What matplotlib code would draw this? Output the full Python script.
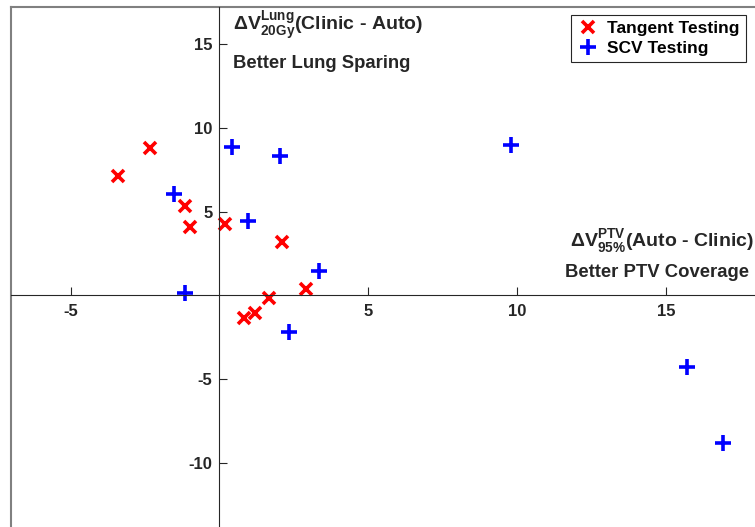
import matplotlib.pyplot as plt

plt.rcParams['font.family'] = ['Liberation Sans', 'DejaVu Sans']
plt.rcParams['mathtext.fontset'] = 'custom'
plt.rcParams['mathtext.rm'] = 'Liberation Sans:bold'
plt.rcParams['mathtext.bf'] = 'Liberation Sans:bold'
plt.rcParams['axes.unicode_minus'] = False

# Tangent testing (red x)
tan_x = [-3.42, -2.34, -1.14, -0.98, 0.20, 2.11, 2.91, 1.67, 1.21, 0.81]
tan_y = [7.11, 8.80, 5.32, 4.09, 4.25, 3.20, 0.36, -0.14, -1.07, -1.37]

# SCV testing (blue +)
scv_x = [0.43, 2.05, -1.54, 0.97, 3.34, -1.14, 2.33, 9.78, 15.70, 16.91]
scv_y = [8.86, 8.31, 6.02, 4.41, 1.47, 0.16, -2.17, 8.94, -4.26, -8.83]

xticks = [-5, 5, 10, 15]
yticks = [-10, -5, 5, 10, 15]

fig = plt.figure(figsize=(7.55, 5.27), dpi=100)
ax = fig.add_axes([11 / 755, -3 / 527, 744.4 / 755, 523 / 527])
ax.set_xlim(-7, 18)
ax.set_ylim(-14, 17.2)

ax.plot(tan_x, tan_y, 'x', color='#ff0000', ms=8.5, mew=2.6, label='Tangent Testing')
ax.plot(scv_x, scv_y, '+', color='#0000ff', ms=11, mew=2.6, label='SCV Testing')

# axes through the origin
for s in ['right', 'top']:
    ax.spines[s].set_visible(False)
ax.spines['left'].set_position('zero')
ax.spines['bottom'].set_position('zero')
ax.spines['left'].set_color('#262626')
ax.spines['bottom'].set_color('#262626')

# outer box (top and left edges visible)
ax.axvline(-7, color='#808080', lw=1.5, clip_on=False)
ax.axhline(17.2, color='#808080', lw=1.5, clip_on=False)

ax.set_xticks(xticks)
ax.set_yticks(yticks)
ax.tick_params(direction='in', length=6, width=0.8, color='#262626',
               labelsize=12, labelcolor='#262626', pad=6)
ax.tick_params(axis='y', pad=5)
for lab in ax.get_xticklabels() + ax.get_yticklabels():
    lab.set_fontweight('bold')

ax.text(0.45, 16.05, r'$\Delta$V$^{\mathrm{Lung}}_{\mathrm{20Gy}}$(Clinic - Auto)',
        fontsize=14, fontweight='bold', color='#262626', va='center', ha='left')
ax.text(0.45, 13.85, 'Better Lung Sparing', fontsize=13.3, fontweight='bold',
        color='#262626', va='center', ha='left')
ax.text(17.95, 3.2, r'$\Delta$V$^{\mathrm{PTV}}_{\mathrm{95\%}}$(Auto - Clinic)',
        fontsize=14, fontweight='bold', color='#262626', va='center', ha='right')
ax.text(17.8, 1.35, 'Better PTV Coverage', fontsize=13.3, fontweight='bold',
        color='#262626', va='center', ha='right')

leg = ax.legend(loc='upper right', bbox_to_anchor=(0.9985, 1.002), fancybox=False,
                edgecolor='#262626', framealpha=1, borderpad=0.35,
                handletextpad=0.5, handlelength=1.2, labelspacing=0.3,
                prop={'weight': 'bold', 'size': 12.5})
leg.get_frame().set_linewidth(0.8)

fig.savefig('out.png', dpi=100)
